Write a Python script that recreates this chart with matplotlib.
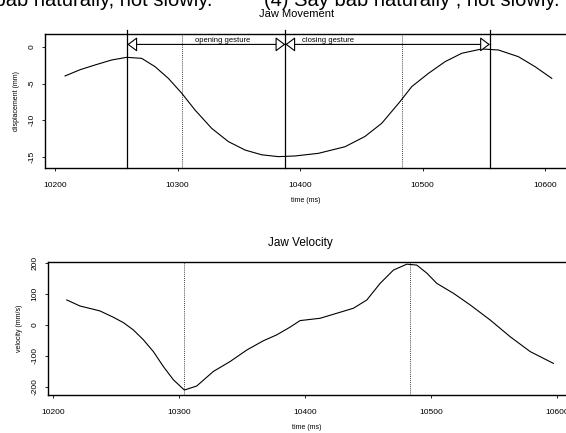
import matplotlib
matplotlib.use("Agg")
import matplotlib.pyplot as plt
import numpy as np

plt.rcParams['font.family'] = ['Liberation Sans', 'DejaVu Sans']

# ---- data ----
disp_time = [10208.2, 10220.4, 10232.7, 10246.3, 10258.5, 10270.7, 10281.6, 10292.5,
             10303.4, 10314.3, 10327.9, 10341.5, 10355.1, 10368.7, 10382.3, 10395.9,
             10415.0, 10436.7, 10453.0, 10466.7, 10481.6, 10491.2, 10504.8, 10518.4,
             10532.0, 10548.3, 10561.9, 10578.2, 10591.8, 10605.5]
disp_mm = [-3.95, -3.1, -2.45, -1.77, -1.41, -1.55, -2.68, -4.28,
           -6.3, -8.6, -11.1, -12.9, -14.05, -14.7, -14.95, -14.86,
           -14.5, -13.6, -12.2, -10.4, -7.45, -5.4, -3.6, -2.0,
           -0.86, -0.27, -0.41, -1.32, -2.68, -4.28]

vel_time = [10210.9, 10221.4, 10232.0, 10237.3, 10247.9, 10255.8, 10263.7, 10271.7,
            10279.6, 10287.5, 10295.5, 10304.2, 10314.0, 10327.2, 10340.5, 10353.7,
            10366.9, 10377.5, 10388.1, 10396.0, 10411.9, 10425.1, 10438.3, 10449.0,
            10459.5, 10470.1, 10480.7, 10488.6, 10496.6, 10504.5, 10517.7, 10531.0,
            10546.8, 10562.7, 10578.6, 10597.0]
vel_mms = [80.6, 61, 50.5, 45, 24.7, 7.5, -16, -48,
           -86, -134, -177, -210, -197, -150, -118, -81,
           -51, -32, -7, 14, 21.5, 37.6, 53.8, 80.6,
           134, 177, 196, 193, 167, 134, 102, 64.5,
           16, -38, -86, -124]

gesture_labels = ["opening gesture", "closing gesture"]
gesture_start = [10259, 10388]
gesture_end = [10388, 10555]
peak_vel_times = [10304, 10483]

x_ticks = [10200, 10300, 10400, 10500, 10600]
disp_ticks = [0, -5, -10, -15]
vel_ticks = [200, 100, 0, -100, -200]

W, H = 566, 433
fig = plt.figure(figsize=(W / 100, H / 100), dpi=100)

def ax_rect(l, t, r, b):
    return [l / W, 1 - b / H, (r - l) / W, (b - t) / H]

lw = 0.8

# ---- top panel ----
ax1 = fig.add_axes(ax_rect(45, 34, 566, 168))
ax1.plot(disp_time, disp_mm, color='black', lw=lw)
ax1.set_xlim(10191.8, 10617.1)
ax1.set_ylim(-16.5, 1.77)
for t in peak_vel_times:
    ax1.axvline(t, color='black', lw=0.6, ls=(0, (1, 1.5)))
bounds = sorted(set(gesture_start + gesture_end))
for t in bounds:
    ax1.axvline(t, color='black', lw=0.9, ymax=1.03, clip_on=False)
arrow_y = 0.35
for lab, s, e in zip(gesture_labels, gesture_start, gesture_end):
    ax1.annotate('', xy=(e, arrow_y), xytext=(s, arrow_y),
                 arrowprops=dict(arrowstyle='<|-|>,head_length=0.6,head_width=0.45',
                                 mutation_scale=10, fc='white', ec='black', lw=0.8,
                                 shrinkA=0, shrinkB=0))
ax1.text(10337, arrow_y + 0.1, gesture_labels[0], fontsize=5.5, ha='center', va='bottom')
ax1.text(10423, arrow_y + 0.1, gesture_labels[1], fontsize=5.5, ha='center', va='bottom')
ax1.set_xticks(x_ticks)
ax1.set_yticks(disp_ticks)
ax1.set_xticklabels([str(v) for v in x_ticks], fontsize=6)
ax1.set_yticklabels([str(v) for v in disp_ticks], fontsize=6, rotation=90, va='center')
ax1.tick_params(axis='x', length=2, width=0.6, pad=8)
ax1.tick_params(axis='y', length=2, width=0.6, pad=5)
ax1.set_xlabel('time (ms)', fontsize=5, labelpad=6)
ax1.set_ylabel('displacement (mm)', fontsize=5, labelpad=6)
ax1.spines['right'].set_visible(False)
for s in ['left', 'top', 'bottom']:
    ax1.spines[s].set_linewidth(1.0)
fig.text(297 / W, 1 - 14 / H, 'Jaw Movement', fontsize=8, ha='center', va='center')

# ---- bottom panel ----
ax2 = fig.add_axes(ax_rect(48, 262, 566, 395))
ax2.plot(vel_time, vel_mms, color='black', lw=lw)
ax2.set_xlim(10196, 10607)
ax2.set_ylim(-226, 203)
for t in peak_vel_times:
    ax2.axvline(t, color='black', lw=0.6, ls=(0, (1, 1.5)))
ax2.set_xticks(x_ticks)
ax2.set_yticks(vel_ticks)
ax2.set_xticklabels([str(v) for v in x_ticks], fontsize=6)
ax2.set_yticklabels([str(v) for v in vel_ticks], fontsize=6, rotation=90, va='center')
ax2.tick_params(axis='x', length=2, width=0.6, pad=8)
ax2.tick_params(axis='y', length=2, width=0.6, pad=5)
ax2.set_xlabel('time (ms)', fontsize=5, labelpad=6)
ax2.set_ylabel('velocity (mm/s)', fontsize=5, labelpad=6)
ax2.spines['right'].set_visible(False)
for s in ['left', 'top', 'bottom']:
    ax2.spines[s].set_linewidth(1.0)
fig.text(300 / W, 1 - 243 / H, 'Jaw Velocity', fontsize=8.5, ha='center', va='center')

# ---- clipped instruction text at very top ----
fig.text(213 / W, 1 - 6 / H, '(3) Say bab naturally, not slowly.', fontsize=14.5,
         ha='right', va='baseline')
fig.text(560 / W, 1 - 6 / H, '(4) Say bab naturally , not slowly.', fontsize=14.5,
         ha='right', va='baseline')

fig.savefig('out.png', dpi=100)
